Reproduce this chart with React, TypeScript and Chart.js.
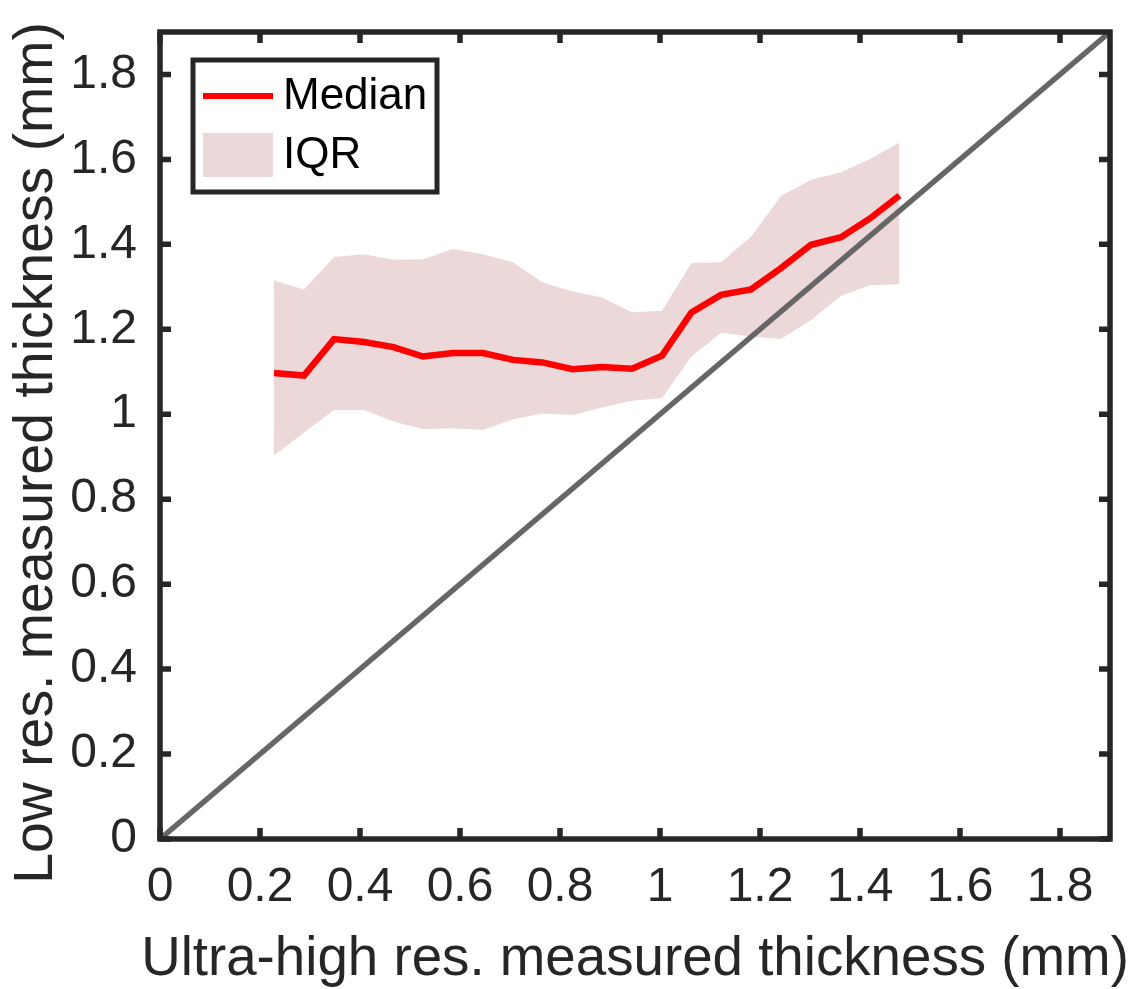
import React, { useEffect, useRef } from "react";
import { Chart, registerables } from "chart.js";

Chart.register(...registerables);

// Bin centres (ultra-high res. measured thickness, mm)
const binCenters = [0.228, 0.288, 0.348, 0.408, 0.467, 0.526, 0.586, 0.646, 0.706, 0.765, 0.825, 0.884, 0.944, 1.004, 1.063, 1.122, 1.182, 1.242, 1.302, 1.362, 1.42, 1.479];
// Median of low res. measured thickness (mm)
const medianValues = [1.097, 1.091, 1.177, 1.170, 1.158, 1.136, 1.144, 1.144, 1.128, 1.122, 1.106, 1.111, 1.107, 1.138, 1.240, 1.281, 1.294, 1.344, 1.399, 1.417, 1.461, 1.515];
// IQR bounds
const iqrUpper = [1.315, 1.294, 1.370, 1.377, 1.364, 1.365, 1.389, 1.377, 1.358, 1.310, 1.289, 1.275, 1.240, 1.244, 1.356, 1.358, 1.418, 1.514, 1.552, 1.570, 1.601, 1.640];
const iqrLower = [0.903, 0.957, 1.010, 1.010, 0.983, 0.965, 0.967, 0.963, 0.988, 1.002, 0.998, 1.016, 1.032, 1.038, 1.136, 1.192, 1.183, 1.177, 1.222, 1.279, 1.304, 1.306];
// Identity line end points
const identityX = [0, 1.9];
const identityY = [0, 1.9];

const tickValues = [0, 0.2, 0.4, 0.6, 0.8, 1, 1.2, 1.4, 1.6, 1.8];
const tickLabels = ["0", "0.2", "0.4", "0.6", "0.8", "1", "1.2", "1.4", "1.6", "1.8"];
const axisMin = 0;
const axisMax = 1.9;

const xTitle = "Ultra-high res. measured thickness (mm)";
const yTitle = "Low res. measured thickness (mm)";
const medianLabel = "Median";
const iqrLabel = "IQR";

const FONT = "'Liberation Sans', Arial, Helvetica, sans-serif";
const AXIS_COLOR = "#262626";
const RED = "#ff0000";
const IQR_FILL = "rgb(236, 216, 216)";
const GRAY = "#666666";

const zip = (xs: number[], ys: number[]) => xs.map((x, i) => ({ x, y: ys[i] }));

// draw text fitted to a target width
const fittedText = (ctx: CanvasRenderingContext2D, text: string, targetWidth: number) => {
  ctx.font = `50px ${FONT}`;
  const w = ctx.measureText(text).width || targetWidth;
  const size = (50 * targetWidth) / w;
  ctx.font = `${size}px ${FONT}`;
};

const framePlugin = {
  id: "frame",
  afterDraw(chart: any) {
    const { ctx, chartArea, scales } = chart;
    const { left, right, top, bottom } = chartArea;
    const xs = scales.x;
    const ys = scales.y;
    ctx.save();
    ctx.strokeStyle = AXIS_COLOR;
    ctx.lineWidth = 5.5;
    ctx.lineCap = "butt";
    const tl = 11;
    ctx.beginPath();
    for (const v of tickValues) {
      const px = xs.getPixelForValue(v);
      ctx.moveTo(px, bottom);
      ctx.lineTo(px, bottom - tl);
      ctx.moveTo(px, top);
      ctx.lineTo(px, top + tl);
      const py = ys.getPixelForValue(v);
      ctx.moveTo(left, py);
      ctx.lineTo(left + tl, py);
      ctx.moveTo(right, py);
      ctx.lineTo(right - tl, py);
    }
    ctx.stroke();
    ctx.lineJoin = "miter";
    ctx.strokeRect(left, top, right - left, bottom - top);

    // Axis titles
    ctx.fillStyle = AXIS_COLOR;
    ctx.textAlign = "center";
    ctx.textBaseline = "alphabetic";
    fittedText(ctx, xTitle, 988);
    ctx.fillText(xTitle, (left + right) / 2, 975);

    ctx.save();
    ctx.translate(52, 453);
    ctx.rotate(-Math.PI / 2);
    fittedText(ctx, yTitle, 862);
    ctx.fillText(yTitle, 0, 0);
    ctx.restore();

    // Legend
    const lx = left + 33;
    const ly = top + 28;
    const lw = 244;
    const lh = 132;
    ctx.fillStyle = "#ffffff";
    ctx.fillRect(lx, ly, lw, lh);
    ctx.lineWidth = 5;
    ctx.strokeRect(lx, ly, lw, lh);

    const sx0 = lx + 10;
    const sx1 = lx + 80;
    const row1 = ly + 36;
    const row2 = ly + 95;
    ctx.strokeStyle = RED;
    ctx.lineWidth = 6;
    ctx.beginPath();
    ctx.moveTo(sx0, row1);
    ctx.lineTo(sx1, row1);
    ctx.stroke();
    ctx.fillStyle = IQR_FILL;
    ctx.fillRect(sx0, row2 - 22, sx1 - sx0, 44);

    ctx.fillStyle = "#000000";
    ctx.font = `44px ${FONT}`;
    ctx.textAlign = "left";
    ctx.textBaseline = "middle";
    ctx.fillText(medianLabel, lx + 90, row1 + 1);
    ctx.fillText(iqrLabel, lx + 90, row2 + 1);
    ctx.restore();
  },
};

export default function App() {
  const canvasRef = useRef<HTMLCanvasElement | null>(null);

  useEffect(() => {
    const canvas = canvasRef.current;
    if (!canvas) return;
    const chart = new Chart(canvas, {
      type: "line",
      data: {
        datasets: [
          {
            label: medianLabel,
            data: zip(binCenters, medianValues),
            borderColor: RED,
            borderWidth: 6.5,
            pointRadius: 0,
            fill: false,
            order: 0,
          },
          {
            label: "identity",
            data: zip(identityX, identityY),
            borderColor: GRAY,
            borderWidth: 5.5,
            pointRadius: 0,
            fill: false,
            order: 1,
          },
          {
            label: iqrLabel,
            data: zip(binCenters, iqrUpper),
            borderWidth: 0,
            borderColor: "rgba(0,0,0,0)",
            backgroundColor: IQR_FILL,
            pointRadius: 0,
            fill: "+1",
            order: 2,
          },
          {
            label: "IQR lower",
            data: zip(binCenters, iqrLower),
            borderWidth: 0,
            borderColor: "rgba(0,0,0,0)",
            pointRadius: 0,
            fill: false,
            order: 3,
          },
        ],
      },
      options: {
        responsive: false,
        animation: false,
        events: [],
        layout: { padding: { left: 0, right: 27, top: 32, bottom: 0 } },
        plugins: {
          legend: { display: false },
          tooltip: { enabled: false },
          filler: { drawTime: "beforeDatasetsDraw" },
        },
        scales: {
          x: {
            type: "linear",
            min: axisMin,
            max: axisMax,
            grid: { display: false, drawTicks: false },
            border: { display: false },
            afterBuildTicks: (scale: any) => {
              scale.ticks = tickValues.map((v) => ({ value: v }));
            },
            afterFit: (scale: any) => {
              scale.height = 150;
              scale.paddingLeft = 0;
              scale.paddingRight = 0;
            },
            ticks: {
              autoSkip: false,
              maxRotation: 0,
              padding: 20,
              color: AXIS_COLOR,
              font: { family: FONT, size: 48 },
              callback: (_v: any, i: number) => tickLabels[i],
            },
            title: { display: false },
          },
          y: {
            type: "linear",
            min: axisMin,
            max: axisMax,
            grid: { display: false, drawTicks: false },
            border: { display: false },
            afterBuildTicks: (scale: any) => {
              scale.ticks = tickValues.map((v) => ({ value: v }));
            },
            afterFit: (scale: any) => {
              scale.width = 160;
              scale.paddingTop = 0;
              scale.paddingBottom = 0;
            },
            ticks: {
              autoSkip: false,
              padding: 23,
              color: AXIS_COLOR,
              font: { family: FONT, size: 48 },
              callback: (_v: any, i: number) => tickLabels[i],
            },
            title: { display: false },
          },
        },
      },
      plugins: [framePlugin],
    } as any);
    return () => chart.destroy();
  }, []);

  return (
    <div style={{ position: "absolute", left: 0, top: 0, width: 1137, height: 989, background: "#ffffff" }}>
      <canvas ref={canvasRef} width={1137} height={989} style={{ display: "block" }} />
    </div>
  );
}
